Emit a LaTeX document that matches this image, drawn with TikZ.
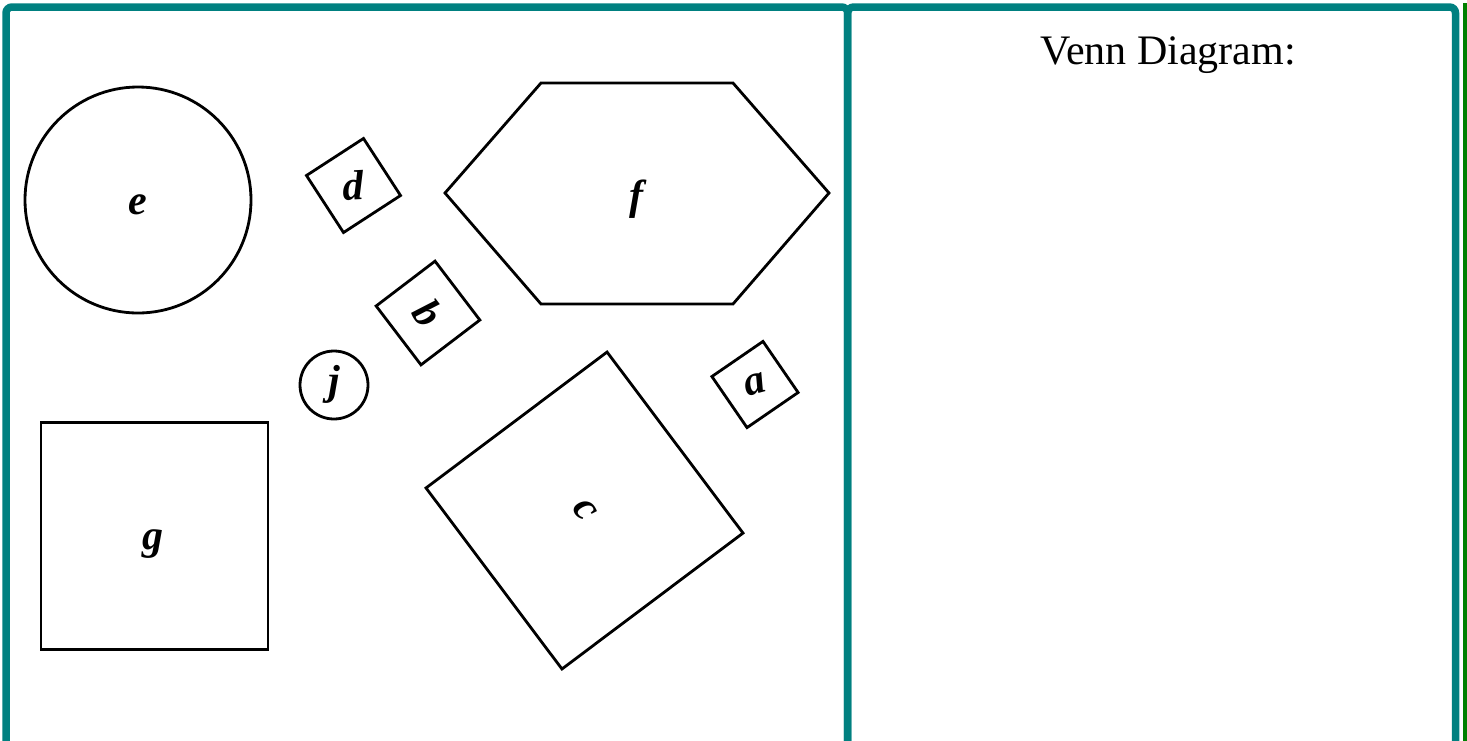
\documentclass[tikz,border=0pt]{standalone}
\usepackage{fontspec}
\setmainfont{Liberation Serif}
\definecolor{frameteal}{RGB}{0,128,128}
\definecolor{framegreen}{RGB}{0,128,0}
\begin{document}
\begin{tikzpicture}[x=1pt,y=-1pt,
  shp/.style={draw=black,line width=2.8pt,inner sep=0pt,outer sep=0pt},
  sq/.style={shp,rectangle,minimum size=#1},
  circ/.style={shp,circle,minimum size=#1},
  lbl/.style={inner sep=0pt,font=\fontsize{42}{46}\selectfont\bfseries\itshape},
  panel/.style={draw=frameteal,line width=7.5pt,rounded corners=6pt}]
\useasboundingbox (0,0) rectangle (1467,740);
\begin{scope}
\clip (0,0) rectangle (1467,740);
\draw[panel] (6,7) rectangle (847.7,800);
\draw[panel] (847.7,7) rectangle (1455.5,800);
\draw[draw=framegreen,line width=4pt] (1465,3) -- (1465,800);
\end{scope}
% shapes
\node[circ=226] (e) at (138,200) {};
\node[lbl] at (138,205) {e};
\node[sq=68,rotate=33] (d) at (353.5,185.5) {};
\node[lbl,rotate=3] at (d.center) {d};
\node[sq=74,rotate=37.3] (b) at (428,313) {};
\node[lbl,rotate=-52.7] at (b.center) {b};
\coordinate (f) at (637,193);
\draw[shp] (445,193) -- (541,83) -- (733,83) -- (829,193) -- (733,304) -- (541,304) -- cycle;
\node[lbl] at (636,199) {f};
\node[circ=68] (j) at (334,385) {};
\node[lbl] at ([yshift=1pt]j.center) {j};
\node[sq=62,rotate=34.5] (a) at (755,384.5) {};
\node[lbl,rotate=15] at (a.center) {a};
\node[sq=226.4,rotate=36.9] (c) at (584.5,510.5) {};
\node[lbl,rotate=-53.1] at (c.center) {c};
\node[sq=227] (g) at (154.5,536) {};
\node[lbl] at (153,544) {g};
\node[inner sep=0pt,font=\fontsize{42}{46}\selectfont] (title) at (1168,55) {Venn Diagram:};
\end{tikzpicture}
\end{document}
